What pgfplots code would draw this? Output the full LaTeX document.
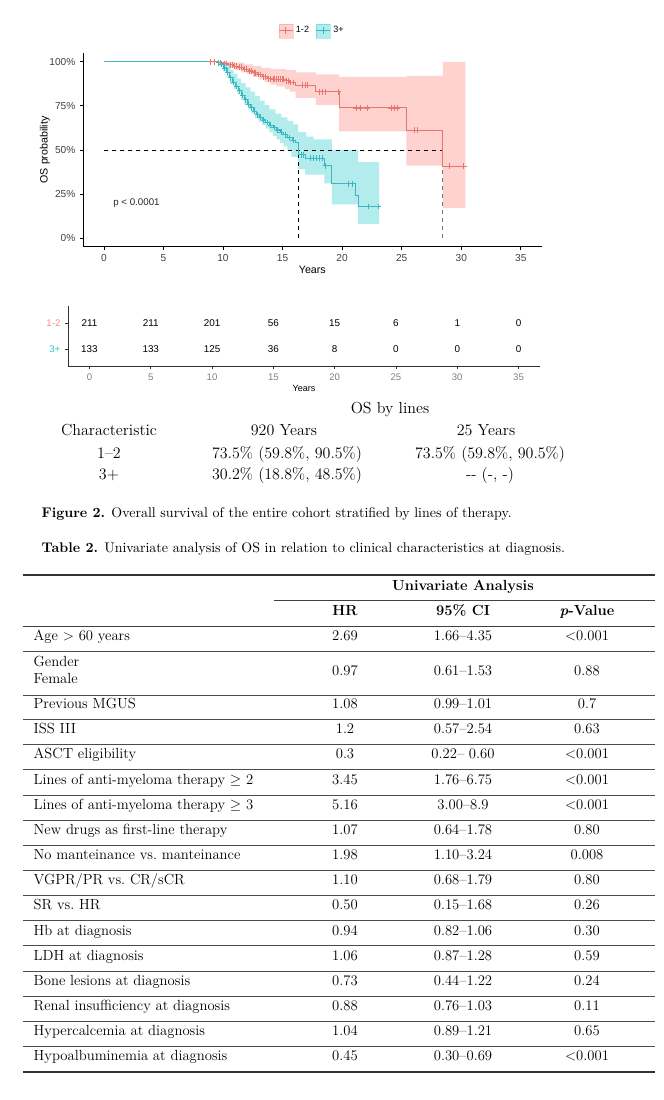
\documentclass[border=0pt]{standalone}
\usepackage{fontspec}
\usepackage{pgfplots}
\pgfplotsset{compat=1.18}
\usepgfplotslibrary{fillbetween}
\newfontfamily\arial{Liberation Sans}
\definecolor{c1}{HTML}{F8766D}
\definecolor{c2}{HTML}{00BFC4}
\definecolor{l1}{HTML}{E8766C}
\definecolor{l2}{HTML}{3DB7BD}
\newcommand\ticksz{\arial\fontsize{7.6}{9}\selectfont}
\newcommand\tb{\fontsize{11}{13}\selectfont}
\begin{document}
\begin{tikzpicture}
\begin{scope}[x=0.75pt,y=-0.75pt]
\path[use as bounding box] (0,0) rectangle (664,1100);
\end{scope}
% ---------------- KM plot ----------------
\begin{axis}[at={(62.25pt,-185.03pt)}, anchor=south west,
  width=344pt, height=145.3pt, scale only axis,
  xmin=-1.75, xmax=36.75, ymin=-0.05, ymax=1.05,
  axis x line*=bottom, axis y line*=left,
  axis line style={black, line width=0.6pt},
  xtick={0,5,...,35}, ytick={0,0.25,0.5,0.75,1},
  yticklabels={0\%,25\%,50\%,75\%,100\%},
  tick align=outside, major tick length=2.2pt,
  tick style={black, line width=0.5pt},
  ticklabel style={font=\ticksz, text=black!75},
  /pgf/number format/assume math mode=true,
  xlabel={Years}, ylabel={OS probability},
  label style={font=\arial\fontsize{8}{9}\selectfont},
  xlabel style={at={(axis description cs:0.5,-0.12)}, anchor=center},
  ylabel style={at={(axis description cs:-0.083,0.5)}, anchor=center},
  legend style={draw=none, fill=none, at={(0.5,1)}, anchor=south, yshift=9pt,
    legend columns=2, font=\arial\fontsize{6.8}{8}\selectfont,
    /tikz/every even column/.append style={column sep=3pt}},
  legend cell align=left,
  clip=false]
\addlegendimage{legend image code/.code={
  \fill[c1, opacity=0.33] (0pt,-5.25pt) rectangle (10.5pt,5.25pt);
  \draw[l1, line width=0.7pt] (0pt,0pt) -- (10.5pt,0pt);
  \draw[l1, line width=0.6pt] (5.25pt,-2.5pt) -- (5.25pt,2.5pt);}}
\addlegendentry{1-2}
\addlegendimage{legend image code/.code={
  \fill[c2, opacity=0.3] (0pt,-5.25pt) rectangle (10.5pt,5.25pt);
  \draw[l2, line width=0.7pt] (0pt,0pt) -- (10.5pt,0pt);
  \draw[l2, line width=0.6pt] (5.25pt,-2.5pt) -- (5.25pt,2.5pt);}}
\addlegendentry{3+}
% red band
\addplot[name path=ru, draw=none, const plot, forget plot] coordinates {
(9.0,1)(11.0,0.995)(11.8,0.985)(12.5,0.975)(13.2,0.965)(14.0,0.958)(15.3,0.953)
(16.1,0.94)(17.8,0.928)(19.75,0.915)(25.4,0.92)(28.45,1.0)(30.35,1.0)};
\addplot[name path=rl, draw=none, const plot, forget plot] coordinates {
(9.0,1)(9.6,0.99)(10.0,0.978)(10.5,0.965)(11.0,0.952)(11.5,0.94)(12.0,0.93)
(12.5,0.915)(13.0,0.90)(13.5,0.885)(14.0,0.87)(14.5,0.86)(15.2,0.845)(15.6,0.83)
(16.1,0.795)(17.8,0.755)(19.75,0.605)(25.4,0.41)(28.45,0.17)(30.35,0.17)};
\addplot[fill=c1, fill opacity=0.33, draw=none, forget plot] fill between[of=ru and rl];
% teal band
\addplot[name path=tu, draw=none, const plot, forget plot] coordinates {
(9.4,1)(10.3,0.99)(10.6,0.955)(10.9,0.93)(11.2,0.905)(11.5,0.88)(11.9,0.855)
(12.3,0.83)(12.7,0.805)(13.1,0.78)(13.5,0.755)(13.9,0.73)(14.4,0.705)(14.9,0.685)
(15.4,0.665)(15.9,0.645)(16.3,0.60)(17.0,0.575)(17.6,0.56)(19.15,0.50)(21.35,0.43)(23.1,0.43)};
\addplot[name path=tl, draw=none, const plot, forget plot] coordinates {
(9.4,1)(9.7,0.975)(10.0,0.945)(10.3,0.91)(10.6,0.875)(10.9,0.845)(11.2,0.815)
(11.5,0.785)(11.8,0.755)(12.1,0.73)(12.4,0.705)(12.7,0.68)(13.0,0.66)(13.3,0.64)
(13.6,0.62)(13.9,0.60)(14.2,0.58)(14.5,0.56)(14.8,0.54)(15.1,0.52)(15.4,0.50)
(15.75,0.46)(16.3,0.39)(16.9,0.36)(18.5,0.31)(19.15,0.19)(21.35,0.08)(23.1,0.08)};
\addplot[fill=c2, fill opacity=0.3, draw=none, forget plot] fill between[of=tu and tl];
% dashed median lines
\addplot[black, dashed, line width=0.5pt, forget plot] coordinates {(0,0.5)(28.45,0.5)};
\addplot[black, dashed, line width=0.5pt, forget plot] coordinates {(16.3,0)(16.3,0.5)};
\addplot[black!55, dashed, line width=0.5pt, forget plot] coordinates {(28.45,0)(28.45,0.5)};
% red curve
\addplot[l1, line width=0.75pt, const plot, forget plot] coordinates {
(0,1)(9.6,0.996)(10.0,0.99)(10.5,0.984)(10.9,0.976)(11.3,0.968)(11.7,0.958)
(12.1,0.948)(12.5,0.938)(12.9,0.928)(13.3,0.915)(13.7,0.904)(14.1,0.9)(15.2,0.893)
(15.6,0.882)(16.1,0.867)(17.8,0.83)(19.75,0.738)(25.4,0.611)(28.45,0.406)(30.3,0.406)};
\addplot[l1, only marks, mark=+, mark size=2.2pt, line width=0.6pt, forget plot] coordinates {
(8.96,1)(9.3,1)(9.8,0.996)(10.1,0.99)(10.3,0.99)(10.6,0.984)(10.75,0.984)(11.0,0.976)
(11.15,0.976)(11.4,0.968)(11.55,0.968)(11.8,0.958)(11.95,0.958)(12.2,0.948)(12.35,0.948)
(12.6,0.938)(12.75,0.938)(13.0,0.928)(13.15,0.928)(13.4,0.915)(13.55,0.915)(13.8,0.904)
(13.95,0.904)(14.2,0.9)(14.35,0.9)(14.5,0.9)(14.65,0.9)(14.8,0.9)(14.95,0.9)(15.05,0.9)
(15.3,0.893)(15.45,0.893)(15.7,0.882)(15.9,0.882)(16.7,0.867)(16.9,0.867)
(17.1,0.867)(18.1,0.83)(18.35,0.83)(18.6,0.83)(19.7,0.83)(21.2,0.738)(21.5,0.738)
(22.1,0.738)(24.1,0.738)(24.35,0.738)(24.6,0.738)(26.05,0.611)(26.35,0.611)
(29.0,0.406)(30.2,0.406)};
% teal curve
\addplot[l2, line width=0.75pt, const plot, forget plot] coordinates {
(0,1)(9.5,0.995)(9.8,0.985)(10.05,0.965)(10.3,0.94)(10.55,0.91)(10.8,0.885)
(11.05,0.86)(11.3,0.835)(11.55,0.81)(11.8,0.785)(12.05,0.76)(12.3,0.74)(12.55,0.72)
(12.8,0.70)(13.05,0.685)(13.3,0.67)(13.6,0.655)(13.9,0.64)(14.2,0.627)(14.5,0.613)
(14.8,0.60)(15.1,0.585)(15.45,0.57)(15.8,0.555)(16.05,0.54)(16.3,0.472)(16.9,0.453)
(18.5,0.41)(19.15,0.307)(21.1,0.24)(21.35,0.178)(23.15,0.178)};
\addplot[l2, only marks, mark=+, mark size=2.2pt, line width=0.6pt, forget plot] coordinates {
(9.65,0.995)(9.9,0.985)(10.15,0.965)(10.4,0.94)(10.65,0.91)(10.9,0.885)(11.15,0.86)
(11.4,0.835)(11.65,0.81)(11.9,0.785)(12.15,0.76)(12.4,0.74)(12.65,0.72)(12.9,0.70)
(13.15,0.685)(13.4,0.67)(13.7,0.655)(14.0,0.64)(14.3,0.627)(14.6,0.613)(14.9,0.60)
(15.2,0.585)(15.55,0.57)(15.9,0.555)(16.6,0.472)(16.75,0.472)(17.3,0.453)(17.6,0.453)
(17.86,0.453)(18.1,0.453)(18.35,0.453)(18.6,0.41)(20.5,0.307)(20.9,0.307)(22.2,0.178)
(23.05,0.178)};
\node[anchor=west, font=\arial\fontsize{7.3}{8}\selectfont, text=black!85] at (axis cs:0.4,0.195) {p < 0.0001};
\end{axis}
% ---------------- risk table ----------------
\begin{axis}[at={(51pt,-274.5pt)}, anchor=south west,
  width=354pt, height=45pt, scale only axis,
  xmin=-1.75, xmax=36.75, ymin=0.346, ymax=2.654,
  axis x line*=bottom, axis y line*=left,
  axis line style={black!80, line width=0.6pt},
  xtick={0,5,...,35}, ytick={1,2},
  yticklabels={\textcolor{c2!85}{3+},\textcolor{c1!85}{1-2}},
  tick align=outside, major tick length=2.2pt,
  tick style={black!80, line width=0.5pt},
  xticklabel style={font=\arial\fontsize{7.2}{8}\selectfont, text=black!50},
  yticklabel style={font=\arial\fontsize{7.2}{8}\selectfont},
  /pgf/number format/assume math mode=true,
  xlabel={Years},
  xlabel style={font=\arial\fontsize{6.8}{8}\selectfont, at={(axis description cs:0.5,-0.37)}, anchor=center},
  clip=false]
\addplot[draw=none, mark=none, nodes near coords, point meta=explicit symbolic,
  every node near coord/.append style={font=\arial\fontsize{7.4}{8}\selectfont, anchor=center, text=black}]
  coordinates {(0,2)[211] (5,2)[211] (10,2)[201] (15,2)[56] (20,2)[15] (25,2)[6] (30,2)[1] (35,2)[0]
  (0,1)[133] (5,1)[133] (10,1)[125] (15,1)[36] (20,1)[8] (25,1)[0] (30,1)[0] (35,1)[0]};
\end{axis}
% ---------------- text and tables ----------------
\begin{scope}[x=0.75pt,y=-0.75pt]
\begin{scope}[every node/.style={font=\fontsize{12}{14}\selectfont, anchor=mid}]
\node at (390,411) {OS by lines};
\node at (109,433) {Characteristic};
\node at (284,433) {920 Years};
\node at (486,433) {25 Years};
\node at (109,456) {1--2};
\node at (287,456) {73.5\% (59.8\%, 90.5\%)};
\node at (490,456) {73.5\% (59.8\%, 90.5\%)};
\node at (109,477) {3+};
\node at (287,477) {30.2\% (18.8\%, 48.5\%)};
\node at (490,477) {{-}{-} (-, -)};
\end{scope}
\node[anchor=mid west, font=\fontsize{10.5}{12}\selectfont] at (37,515) {\textbf{Figure 2.} Overall survival of the entire cohort stratified by lines of therapy.};
\node[anchor=mid west, font=\fontsize{10.5}{12}\selectfont] at (37,550) {\textbf{Table 2.} Univariate analysis of OS in relation to clinical characteristics at diagnosis.};
% rules
\draw[line width=1.1pt, black!80] (23,575) -- (655,575);
\draw[line width=0.6pt, black!75] (274,600.7) -- (655,600.7);
\draw[line width=0.7pt, black!75] (23,626) -- (655,626);
\foreach \r in {651.5,695,719.5,744,769,795,820,845,870,895,920.7,945.7,971,996,1021,1046}
  \draw[line width=0.55pt, black!70] (23,\r) -- (655,\r);
\draw[line width=1.1pt, black!80] (23,1072) -- (655,1072);
\begin{scope}[every node/.style={font=\tb\bfseries, anchor=mid}]
\node at (463,588) {Univariate Analysis};
\node at (345,613) {HR};
\node at (463,613) {95\% CI};
\node at (587,613) {\textit{p}-Value};
\end{scope}
\node[anchor=mid west, font=\tb] at (29,664) {Gender};
\node[anchor=mid west, font=\tb] at (29,681) {Female};
\foreach \y/\a/\b/\c/\d in {
  638/{Age > 60 years}/2.69/{1.66--4.35}/{<0.001},
  673/{}/0.97/{0.61--1.53}/0.88,
  706/{Previous MGUS}/1.08/{0.99--1.01}/0.7,
  731/{ISS III}/1.2/{0.57--2.54}/0.63,
  756/{ASCT eligibility}/0.3/{0.22-- 0.60}/{<0.001},
  782/{Lines of anti-myeloma therapy $\geq$ 2}/3.45/{1.76--6.75}/{<0.001},
  807/{Lines of anti-myeloma therapy $\geq$ 3}/5.16/{3.00--8.9}/{<0.001},
  832/{New drugs as first-line therapy}/1.07/{0.64--1.78}/0.80,
  857/{No manteinance vs.\ manteinance}/1.98/{1.10--3.24}/0.008,
  882/{VGPR{/}PR vs.\ CR{/}sCR}/1.10/{0.68--1.79}/0.80,
  907/{SR vs.\ HR}/0.50/{0.15--1.68}/0.26,
  933/{Hb at diagnosis}/0.94/{0.82--1.06}/0.30,
  958/{LDH at diagnosis}/1.06/{0.87--1.28}/0.59,
  983/{Bone lesions at diagnosis}/0.73/{0.44--1.22}/0.24,
  1008/{Renal insufficiency at diagnosis}/0.88/{0.76--1.03}/0.11,
  1033/{Hypercalcemia at diagnosis}/1.04/{0.89--1.21}/0.65,
  1058/{Hypoalbuminemia at diagnosis}/0.45/{0.30--0.69}/{<0.001}} {
  \node[anchor=mid west, font=\tb] at (29,\y) {\a};
  \node[anchor=mid, font=\tb] at (345,\y) {\b};
  \node[anchor=mid, font=\tb] at (463,\y) {\c};
  \node[anchor=mid, font=\tb] at (587,\y) {\d};
}
\end{scope}
\end{tikzpicture}
\end{document}
